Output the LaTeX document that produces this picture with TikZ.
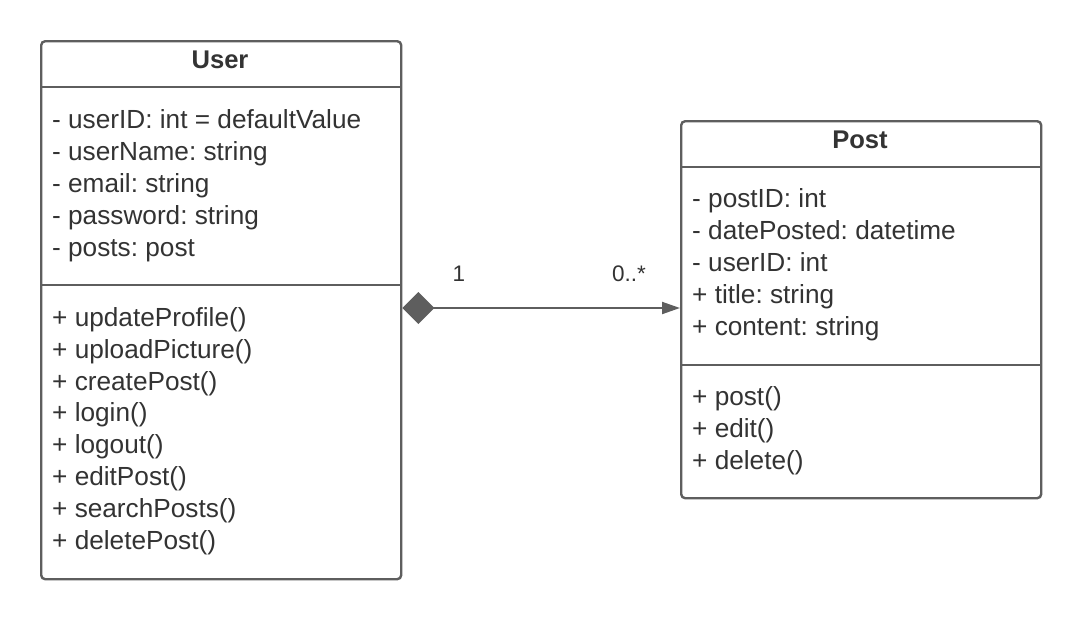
\documentclass[tikz,border=0pt]{standalone}
\usepackage{fontspec}
\setmainfont{Liberation Sans}
\usetikzlibrary{arrows.meta}
\definecolor{ln}{HTML}{5E5E5E}
\definecolor{tx}{HTML}{333333}
\frenchspacing
\begin{document}
\begin{tikzpicture}[x=1pt,y=-1pt,
  box/.style={draw=ln,line width=2.4pt,rounded corners=4pt,fill=white,inner sep=0pt,anchor=north west},
  sepline/.style={draw=ln,line width=2.4pt},
  row/.style={anchor=base west,inner sep=0pt,text=tx,font=\fontsize{26.2}{30}\selectfont},
  head/.style={anchor=base,inner sep=0pt,text=tx,font=\fontsize{25.6}{30}\selectfont\bfseries},
  mult/.style={anchor=base,inner sep=0pt,text=tx,font=\fontsize{22.5}{26}\selectfont}]
\useasboundingbox (0,0) rectangle (1080,619);
% boxes
\node[box,minimum width=360pt,minimum height=538pt] (user) at (40,40) {};
\node[box,minimum width=360pt,minimum height=377pt] (post) at (680,120) {};
% compartment separators
\coordinate (u1) at (0,87);
\coordinate (u2) at (0,285);
\coordinate (p1) at (0,167);
\coordinate (p2) at (0,365);
\draw[sepline] (user.west |- u1) -- (user.east |- u1);
\draw[sepline] (user.west |- u2) -- (user.east |- u2);
\draw[sepline] (post.west |- p1) -- (post.east |- p1);
\draw[sepline] (post.west |- p2) -- (post.east |- p2);
% headers
\node[head] (userhead) at (220,68.5) {User};
\node[head] (posthead) at (860,148.5) {Post};
% User attributes
\foreach \t [count=\i] in {- userID: int = defaultValue, - userName: string, - email: string, - password: string, - posts: post}
  \node[row] (ua\i) at (52,{128.5+32*(\i-1)}) {\t};
% User methods
\foreach \t [count=\i] in {+ updateProfile(), + uploadPicture(), + createPost(), + login(), + logout(), + editPost(), + searchPosts(), + deletePost()}
  \node[row] (um\i) at (52,{326.5+31.8*(\i-1)}) {\t};
% Post attributes
\foreach \t [count=\i] in {- postID: int, - datePosted: datetime, - userID: int, + title: string, + content: string}
  \node[row] (pa\i) at (692,{207.5+32*(\i-1)}) {\t};
% Post methods
\foreach \t [count=\i] in {+ post(), + edit(), + delete()}
  \node[row] (pm\i) at (692,{405.5+32*(\i-1)}) {\t};
% association
\coordinate (lvl) at (0,308);
\draw[draw=ln,fill=ln,line width=2pt,{Diamond[length=32pt,width=32pt]}-{Triangle[length=18pt,width=12pt]}]
  (user.east |- lvl) -- (post.west |- lvl);
\node[mult] (m1) at (459,281.5) {1};
\node[mult] (m2) at (629,281.5) {0..*};
\end{tikzpicture}
\end{document}
